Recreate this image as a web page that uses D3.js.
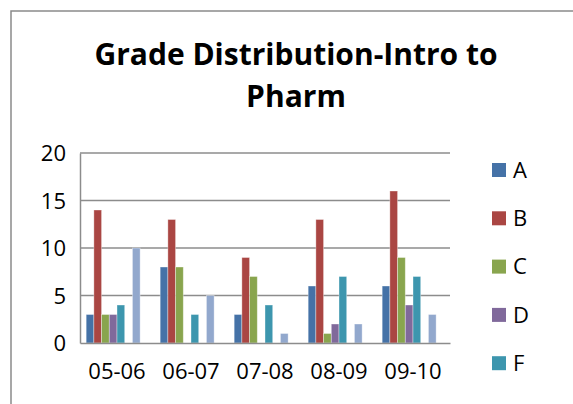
<!DOCTYPE html>
<html>
<head>
<meta charset="utf-8">
<script src="https://cdn.jsdelivr.net/npm/d3@7/dist/d3.min.js"></script>
<style>
  html, body { margin: 0; padding: 0; background: #fff; overflow: hidden; }
  svg { display: block; }
</style>
</head>
<body>
<div id="chart"></div>
<script>
// Grade counts per academic year, one array per grade
const years = ["05-06", "06-07", "07-08", "08-09", "09-10"];
const grades = ["A", "B", "C", "D", "F", "I", "W", "WF"];
const gradeA  = [3, 8, 3, 6, 6];
const gradeB  = [14, 13, 9, 13, 16];
const gradeC  = [3, 8, 7, 1, 9];
const gradeD  = [3, 0, 0, 2, 4];
const gradeF  = [4, 3, 4, 7, 7];
const gradeI  = [0, 0, 0, 0, 0];
const gradeW  = [10, 5, 1, 2, 3];
const gradeWF = [0, 0, 0, 0, 0];
const yTicks = [0, 5, 10, 15, 20];
const colors = ["#4572A7", "#AA4643", "#89A54E", "#80699B", "#3D96AE", "#DB843D", "#92A8CD", "#A47D7C"];

const seriesValues = [gradeA, gradeB, gradeC, gradeD, gradeF, gradeI, gradeW, gradeWF];
const rows = years.map((yr, i) => ({
  year: yr,
  values: grades.map((g, j) => ({ grade: g, value: seriesValues[j][i], idx: j }))
}));

const W = 573, H = 404;
const svg = d3.select("#chart").append("svg")
  .attr("width", W).attr("height", H);

// outer chart frame: top and left edges (the frame continues beyond the view)
svg.append("path")
  .attr("d", `M11,${H}V11H${W}`)
  .attr("fill", "none").attr("stroke", "#8a8a8a").attr("stroke-width", 1.5);

// title
const title = svg.append("text")
  .attr("text-anchor", "middle")
  .attr("font-family", "'Open Sans', sans-serif")
  .attr("font-weight", "bold")
  .attr("font-size", 30)
  .attr("fill", "#000")
  .style("font-variant-ligatures", "none");
title.append("tspan").attr("x", 296).attr("y", 65).text("Grade Distribution-Intro to");
title.append("tspan").attr("x", 296).attr("y", 107).text("Pharm");

const plot = { left: 80, right: 450, top: 153, bottom: 343 };

const x0 = d3.scaleBand().domain(years).range([plot.left, plot.right]).paddingInner(0).paddingOuter(0);
const x1 = d3.scaleBand().domain(grades).range([0, x0.bandwidth()]).paddingInner(0).paddingOuter(0.8);
const y = d3.scaleLinear().domain([0, 20]).range([plot.bottom, plot.top]);

// horizontal gridlines
svg.append("g").selectAll("line")
  .data(yTicks.filter(t => t > 0))
  .join("line")
  .attr("x1", plot.left).attr("x2", plot.right)
  .attr("y1", d => y(d)).attr("y2", d => y(d))
  .attr("stroke", "#8c8c8c").attr("stroke-width", 1.5);

// bars
svg.append("g").selectAll("g")
  .data(rows)
  .join("g")
  .attr("transform", d => `translate(${x0(d.year)},0)`)
  .selectAll("rect")
  .data(d => d.values.filter(v => v.value > 0))
  .join("rect")
  .attr("x", d => x1(d.grade))
  .attr("width", x1.bandwidth())
  .attr("y", d => y(d.value))
  .attr("height", d => y(0) - y(d.value))
  .attr("fill", d => colors[d.idx])
  .attr("stroke", "rgba(255,255,255,0.45)")
  .attr("stroke-width", 0.8);

// y axis
const yAxis = svg.append("g")
  .attr("transform", `translate(${plot.left},0)`)
  .call(d3.axisLeft(y).tickValues(yTicks).tickSize(0).tickPadding(14).tickFormat(d3.format("d")));
yAxis.select(".domain").attr("stroke", "#8c8c8c").attr("stroke-width", 1.5);
yAxis.selectAll("text")
  .attr("font-family", "'Open Sans', sans-serif")
  .attr("font-size", 22)
  .attr("fill", "#000")
  .attr("dy", "0.35em");

// x axis
const xAxis = svg.append("g")
  .attr("transform", `translate(0,${plot.bottom})`)
  .call(d3.axisBottom(x0).tickSize(0).tickPadding(20));
xAxis.select(".domain").attr("stroke", "#8c8c8c").attr("stroke-width", 1.5);
xAxis.selectAll("text")
  .attr("font-family", "'Open Sans', sans-serif")
  .attr("font-size", 22)
  .attr("fill", "#000");

// legend: entries are stacked downward; only those that fit in the view are drawn
const legendTop = 170, legendStep = 48.3;
const legendItems = grades
  .map((g, i) => ({ grade: g, idx: i, cy: legendTop + i * legendStep }))
  .filter(d => d.cy + 12 <= H);
const legend = svg.append("g").selectAll("g")
  .data(legendItems)
  .join("g")
  .attr("transform", d => `translate(492,${d.cy})`);
legend.append("rect")
  .attr("x", 0).attr("y", -7).attr("width", 14).attr("height", 14)
  .attr("fill", d => colors[d.idx]);
legend.append("text")
  .attr("x", 21).attr("y", 0).attr("dy", "0.35em")
  .attr("font-family", "'Open Sans', sans-serif")
  .attr("font-size", 22)
  .attr("fill", "#000")
  .text(d => d.grade);
</script>
</body>
</html>
